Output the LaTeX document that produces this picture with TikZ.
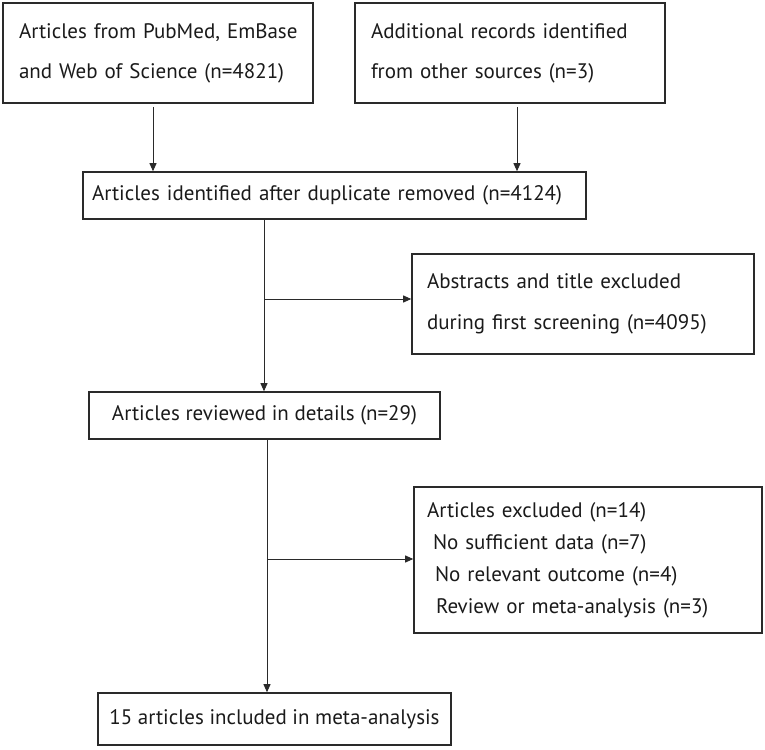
\documentclass[tikz,border=0pt]{standalone}
\usepackage{fontspec}
\setmainfont{PT Sans}
\usetikzlibrary{arrows.meta}
\definecolor{ln}{HTML}{2A2A2A}
\definecolor{tx}{HTML}{1A1A1A}
\tikzset{
  box/.style={draw=ln, line width=1.6pt, rectangle, inner sep=0pt, text=tx,
    font=\fontsize{21}{40}\selectfont},
  lbox/.style={box, align=left},
  cbox/.style={box, align=center},
  conn/.style={draw=ln, line width=0.9pt},
  arr/.style={conn, -{Triangle[length=8pt,width=7pt]}}
}
\begin{document}
\begin{tikzpicture}[x=1pt,y=-1pt]
\useasboundingbox (0,0) rectangle (765,749);
\node[lbox, minimum width=310pt, minimum height=100pt, text width=278pt] (b1) at (158,53)
  {\mbox{Articles from PubMed, EmBase}\\\mbox{and Web of Science (n=4821)}};
\node[lbox, minimum width=310pt, minimum height=100pt, text width=278pt] (b2) at (510,53)
  {\mbox{Additional records identified}\\\mbox{from other sources (n=3)}};
\node[lbox, minimum width=503pt, minimum height=47pt, text width=485pt] (b3) at (334.5,195.5)
  {\mbox{Articles identified after duplicate removed (n=4124)}};
\node[lbox, minimum width=342pt, minimum height=100pt, text width=312pt, font=\fontsize{21}{41}\selectfont] (r1) at (583,304)
  {\mbox{Abstracts and title excluded}\\\mbox{during first screening (n=4095)}};
\node[cbox, minimum width=351pt, minimum height=47pt] (b4) at (264.5,415.5)
  {Articles reviewed in details (n=29)};
\node[lbox, minimum width=348pt, minimum height=146pt, text width=322pt, font=\fontsize{21}{32}\selectfont] (r2) at (588,560)
  {Articles excluded (n=14)\\\hspace*{6pt}No sufficient data (n=7)\\\hspace*{8pt}No relevant outcome (n=4)\\\hspace*{9pt}Review or meta-analysis (n=3)};
\node[cbox, minimum width=353pt, minimum height=52pt] (b5) at (274.5,719)
  {15 articles included in meta-analysis};
\coordinate (a1) at (153,107);
\coordinate (a2) at (517,107);
\coordinate (j1) at (264,299);
\coordinate (t2) at (267,0);
\coordinate (j2) at (267,559);
\draw[arr] (a1) -- (a1 |- b3.north);
\draw[arr] (a2) -- (a2 |- b3.north);
\draw[arr] (b3.south -| j1) -- (b4.north -| j1);
\draw[arr] (j1) -- (j1 -| r1.west);
\draw[arr] (b4.south -| t2) -- (b5.north -| t2);
\draw[arr] (j2) -- (j2 -| r2.west);
\end{tikzpicture}
\end{document}
